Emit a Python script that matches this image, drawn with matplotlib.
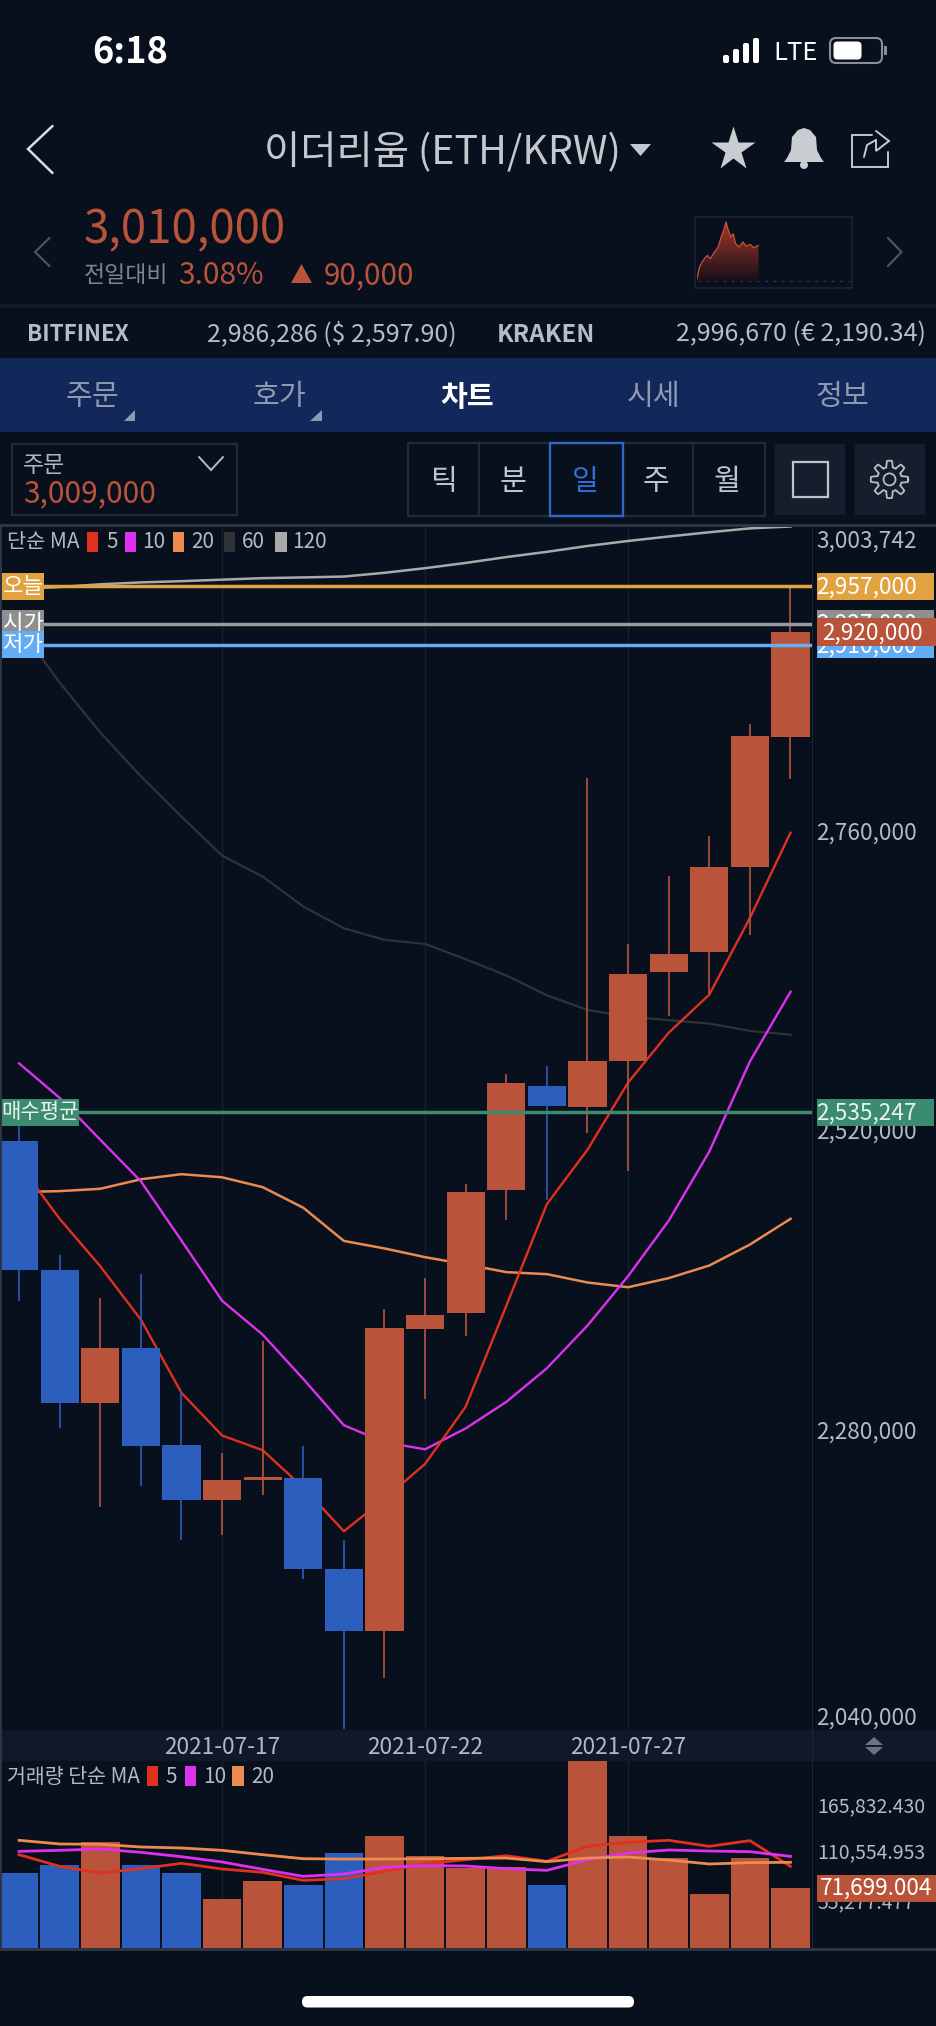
import numpy as np
import matplotlib
matplotlib.use("Agg")
import matplotlib.pyplot as plt
from matplotlib.patches import Rectangle, FancyBboxPatch, Polygon, Circle

plt.rcParams['font.family'] = ['Noto Sans CJK KR', 'DejaVu Sans']

# ---------- data ----------
dates = ['2021-07-12','2021-07-13','2021-07-14','2021-07-15','2021-07-16','2021-07-17','2021-07-18',
         '2021-07-19','2021-07-20','2021-07-21','2021-07-22','2021-07-23','2021-07-24','2021-07-25',
         '2021-07-26','2021-07-27','2021-07-28','2021-07-29','2021-07-30','2021-07-31']
body_top = [2512400,2408800,2346400,2346400,2268500,2240600,2242800,2242500,2169600,2362600,
            2372700,2471500,2558600,2556800,2576700,2646600,2662600,2731600,2836800,2920000]
body_bot = [2408800,2302100,2302100,2267800,2224700,2224700,2240600,2169600,2119800,2119800,
            2361900,2374900,2472800,2540800,2539900,2576100,2647800,2663800,2731900,2835800]
high = [2530800,2420900,2386700,2405700,2312200,2262500,2351800,2267800,2192800,2377800,
        2402500,2477900,2565900,2572400,2803600,2670600,2724800,2756400,2846900,2957000]
low = [2384400,2282700,2218700,2235600,2192800,2196500,2228900,2161700,2041000,2081900,
       2305800,2356500,2448800,2464900,2518800,2488700,2612900,2629700,2677300,2802100]
is_up = [0,0,1,0,0,1,1,0,0,1,1,1,1,0,1,1,1,1,1,1]

ma5 = [2494000,2450000,2412000,2369200,2310600,2276400,2264600,2234600,2199700,2225700,
       2253600,2299500,2380300,2461800,2505400,2559200,2599100,2629700,2691100,2759400]
ma10 = [2574600,2546900,2513400,2480100,2432600,2384400,2357200,2321700,2284600,2271000,
        2265300,2282100,2303300,2330300,2364500,2404100,2448500,2503900,2576100,2631900]
ma20 = [2471500,2472200,2474100,2481700,2485800,2483300,2475400,2458900,2432300,2426300,
        2419300,2413600,2407300,2405700,2399000,2395200,2402500,2412600,2429400,2450000]
ma60 = [2924300,2879700,2839800,2804600,2772300,2741100,2724200,2700300,2682800,2673600,
        2670300,2658000,2645100,2629100,2617400,2612000,2609200,2606500,2600600,2597600]
ma120 = [2954800,2956300,2958500,2960000,2961000,2962200,2963400,2964000,2964700,2967700,
         2971400,2975600,2980300,2984500,2989200,2993200,2996800,3000200,3003300,3004800]

volume = [89600,99600,126300,99200,89200,58500,80100,74900,113100,133400,
          110300,96000,97200,75700,240000,134200,107900,64900,107900,71699]
vma5 = [111500,97600,89600,94800,101200,94400,90400,80900,82800,91600,
        100800,105500,110300,103600,121500,126300,128700,121500,128300,97600]
vma10 = [115500,116700,118300,114300,109100,102800,94000,85600,88400,96400,
         98400,98000,94800,92800,105500,113500,117100,115900,115100,109500]
vma20 = [128700,124300,123900,120700,119500,116700,111500,106700,106300,106300,
         106700,107100,107500,103200,107500,108700,105100,100400,102000,102400]

price_ticks = [3003742,2760000,2520000,2280000,2040000]
price_tick_labels = ['3,003,742','2,760,000','2,520,000','2,280,000','2,040,000']
vol_ticks = [165832.430,110554.953,55277.477]
vol_tick_labels = ['165,832.430','110,554.953','55,277.477']
spark_x = [0,5,11,18,23,30,36,41,45,49,53,57,61,65,71,77,83,89,95,103]
spark = [0,42,62,77,67,87,102,132,152,177,152,132,142,112,102,117,104,110,100,107]

levels = [('시가',2927000,'2,927,000','#8f8f8f','#9a9a9a'),
          ('오늘',2957000,'2,957,000','#e2a23f','#e2a23f'),
          ('저가',2910000,'2,910,000','#62aef5','#62aef5')]
avg_price = 2535247

# ---------- style ----------
W, H = 936, 2026
BG = '#08101d'
RED = '#b9533a'
BLUE = '#2b5ebd'
C5, C10, C20, C60, C120 = '#e0301f', '#de30ef', '#ec8a4f', '#2f3337', '#a9a9a9'
GRID = '#162030'
BORDER = '#2b3543'
TXT = '#b4bac2'

fig = plt.figure(figsize=(W/100, H/100), dpi=100, facecolor=BG)

def rect_ax(x0, y0, x1, y1):
    return [x0/W, 1-y1/H, (x1-x0)/W, (y1-y0)/H]

# ---------- price panel ----------
ax = fig.add_axes(rect_ax(0, 526, 812, 1729), facecolor='none', zorder=2)
ax.set_xlim(-0.47, 19.53)
ax.set_ylim(2041200, 3005200)
ax.set_xticks([])
ax.set_yticks([])
for s in ax.spines.values():
    s.set_visible(False)
x = np.arange(len(dates))
cols = [RED if u else BLUE for u in is_up]
for i in (5, 10, 15):
    ax.axvline(i, color=GRID, lw=1, zorder=1)
for vals, c, lw in [(ma120, C120, 1.8), (ma60, C60, 1.6), (ma20, C20, 1.8), (ma10, C10, 1.7), (ma5, C5, 1.7)]:
    ax.plot(x, vals, color=c, lw=lw, zorder=2)
ax.vlines(x, low, high, colors=cols, lw=1.2, zorder=3)
ax.bar(x, np.array(body_top)-np.array(body_bot), bottom=body_bot, width=0.94, color=cols, zorder=4)
for _, v, _, _, lc in levels:
    ax.axhline(v, color=lc, lw=2.5, zorder=5)
ax.axhline(avg_price, color='#3b8c6e', lw=2.5, zorder=5)

# ---------- volume panel ----------
av = fig.add_axes(rect_ax(0, 1761, 812, 1948), facecolor='none', zorder=2)
av.set_xlim(-0.47, 19.53)
av.set_ylim(0, 223465)
av.set_xticks([])
av.set_yticks([])
for s in av.spines.values():
    s.set_visible(False)
for i in (5, 10, 15):
    av.axvline(i, color=GRID, lw=1, zorder=1)
av.bar(x, volume, width=0.95, color=cols, zorder=2)
for vals, c in [(vma5, C5), (vma10, C10), (vma20, C20)]:
    av.plot(x, vals, color=c, lw=2.0, zorder=3)

# ---------- overlay in pixel units ----------
ui = fig.add_axes([0, 0, 1, 1], facecolor='none', zorder=3)
ui.set_xlim(0, W)
ui.set_ylim(H, 0)
ui.axis('off')

def T(px, py, s, size, color=TXT, ha='left', va='center', weight='normal', z=10):
    return ui.text(px, py+1.5, s, fontsize=size, color=color, ha=ha, va=va, fontweight=weight, zorder=z)

def R(x0, y0, x1, y1, fc='none', ec='none', lw=0, z=1):
    ui.add_patch(Rectangle((x0, y0), x1-x0, y1-y0, facecolor=fc, edgecolor=ec, linewidth=lw, zorder=z))

def L(pts, c=TXT, lw=1.5, z=5):
    xs, ys = zip(*pts)
    ui.plot(xs, ys, color=c, lw=lw, zorder=z, solid_capstyle='round', solid_joinstyle='miter')

def Tri(pts, c, z=5):
    ui.add_patch(Polygon(pts, closed=True, facecolor=c, edgecolor='none', zorder=z))

def pyv(axis, v):
    return H - axis.transData.transform((0, v))[1]

# status bar
T(92, 50, '6:18', 26, 'white', weight='bold')
for bx, bt in zip([722, 732, 742, 752], [55, 49, 43, 38]):
    ui.add_patch(FancyBboxPatch((bx+1, bt), 6, 63-bt, boxstyle='round,pad=0,rounding_size=2', fc='white', ec='none', zorder=5))
T(773, 51, 'LTE', 18.5, 'white', weight='medium')
ui.add_patch(FancyBboxPatch((830, 38), 52, 25, boxstyle='round,pad=0,rounding_size=6', fc='none', ec='#8a8f96', lw=1.5, zorder=5))
ui.add_patch(FancyBboxPatch((833.5, 41.5), 28, 18, boxstyle='round,pad=0,rounding_size=4', fc='white', ec='none', zorder=6))
R(884, 46, 887, 55, fc='#8a8f96', z=5)

# header
L([(52.5, 126), (28, 149), (52.5, 173)], '#d8dbdf', 1.8)
T(264, 152, '이더리움 (ETH/KRW)', 28.4, '#c4c8cd')
Tri([(630, 144), (651, 144), (640.5, 156)], '#c4c8cd')
ui.plot([733], [149], marker='*', ms=33, color='#c9cdd2', mec='none', zorder=5)
bell = [(804,128),(810,130),(816,137),(817,150),(821,158),(824,162),(784,162),(787,158),(791,150),(792,137),(798,130)]
Tri(bell, '#c9cdd2')
ui.add_patch(Circle((804, 165), 4, fc='#c9cdd2', ec='none', zorder=5))
L([(872, 135), (852, 135), (852, 167), (888, 167), (888, 152)], '#c4c8cd', 1.4)
L([(864, 157), (867, 145), (876, 140)], '#c4c8cd', 1.4)
L([(876, 131), (889, 141), (876, 151), (876, 140)], '#c4c8cd', 1.4)

# quote row
L([(49.5, 238), (35, 252), (49.5, 266)], '#4a5462', 1.6)
L([(888, 238), (901.5, 252), (888, 266)], '#4a5462', 1.6)
T(84, 228, '3,010,000', 32.8, RED)
T(84, 274, '전일대비', 16.5, '#7b8591')
T(178, 274, '3.08%', 21.5, RED)
Tri([(291, 283), (312, 283), (301.5, 264)], RED)
T(324, 274, '90,000', 21.3, RED)
R(694.5, 216.5, 851.5, 287.5, ec='#1a2432', lw=1.2)

# sparkline
sx = fig.add_axes(rect_ax(696.5, 221, 758.5, 281), facecolor='none', zorder=4)
sx.axis('off')
sx.set_xlim(0, spark_x[-1])
sx.set_ylim(0, 180)
grad = np.linspace(1, 0, 64).reshape(-1, 1)
cm = matplotlib.colors.LinearSegmentedColormap.from_list('s', ['#1a0f18', '#a33a2a'])
im = sx.imshow(grad, extent=[0, spark_x[-1], 0, 180], aspect='auto', cmap=cm, zorder=1)
clip = Polygon(list(zip(spark_x, spark))+[(spark_x[-1], 0), (0, 0)], closed=True, transform=sx.transData)
im.set_clip_path(clip)
sx.plot(spark_x, spark, color='#c9503a', lw=0.9, zorder=2)
ui.plot([698, 850], [281, 281], color='#2a3442', lw=1, ls=(0, (2, 4)), zorder=5)

# exchange row
R(0, 304, W, 308, fc='#111a27')
T(27, 333, 'BITFINEX', 16.2, '#b6bcc4', weight='bold')
T(207, 333, '2,986,286 ($ 2,597.90)', 18, '#b6bcc4')
T(497, 333, 'KRAKEN', 17.4, '#b6bcc4', weight='bold')
T(676, 333, '2,996,670 (€ 2,190.34)', 18, '#b6bcc4')

# tab bar
R(0, 358, W, 432, fc='#12275a')
for tx, s in zip([92.5, 279.4, 467.5, 654, 842], ['주문', '호가', '차트', '시세', '정보']):
    on = s == '차트'
    T(tx, 395, s, 21, 'white' if on else '#8e9ab0', ha='center', weight='bold' if on else 'normal')
Tri([(123.6, 421), (135, 421), (135, 410)], '#8e9ab0')
Tri([(310.4, 421), (322, 421), (322, 410)], '#8e9ab0')

# toolbar
R(12, 444, 237, 515, ec='#222b38', lw=1.6)
T(23, 464, '주문', 16.5, '#b0b6be')
T(23, 492, '3,009,000', 21.5, RED)
L([(199, 457), (211, 470), (223, 457)], '#b6bcc4', 1.4)
R(408, 443, 765, 515.5, ec='#222b38', lw=1.6)
for sxp in [479.4, 692.5]:
    L([(sxp, 443), (sxp, 515.5)], '#222b38', 1.4)
for tx, s in zip([443, 513.4, 585.7, 656, 727], ['틱', '분', '일', '주', '월']):
    T(tx, 480, s, 21, '#2f6fd6' if s == '일' else '#c0c5cb', ha='center')
R(550, 443, 622.7, 515.5, ec='#2f66c8', lw=1.7, z=3)
R(775, 444, 845, 515, fc='#151e2c')
R(793, 462, 827.5, 497, ec='#c0c4ca', lw=1.6, z=3)
R(855, 444, 925, 515, fc='#151e2c')
ang = np.linspace(0, 2*np.pi, 97)
rad = 15.5 + 3.2*np.clip(np.cos(8*ang)*2.2, -1, 1)
ui.plot(889.5+rad*np.cos(ang), 479.4+rad*np.sin(ang), color='#b8bdc4', lw=1.3, zorder=5)
ui.add_patch(Circle((889.5, 479.4), 6, fc='none', ec='#b8bdc4', lw=1.3, zorder=5))

# panel frames
R(0, 524, W, 527, fc=BORDER, z=2)
R(0, 526, 2, 1950, fc=BORDER, z=2)
R(811.5, 526, 812.8, 1948, fc='#1c2633', z=2)
R(0, 1947.5, W, 1950.5, fc=BORDER, z=2)
R(0, 1730, W, 1761, fc='#0f1929', z=1)

# price legend
T(7, 540, '단순 MA', 15, TXT)
for x0, x1, c, tx, s in [(87, 98, C5, 106, '5'), (125, 136, C10, 142, '10'), (172.5, 184, C20, 191, '20'),
                         (224, 235, C60, 242, '60'), (275, 286.5, C120, 292.5, '120')]:
    R(x0, 531.5, x1, 551.5, fc=c, z=6)
    T(tx, 540, s, 15, TXT)

# price tick labels
for v, s, dy in zip(price_ticks, price_tick_labels, [12, 0, 0, 0, -13]):
    T(816, pyv(ax, v)+dy-0.5, s, 16.3, TXT)

# level labels
for z, (name, v, s, bc, _) in enumerate(levels):
    y = pyv(ax, v)
    R(2, y-13.5, 44, y+13.5, fc=bc, z=20+2*z)
    T(23, y-1.5, name, 16, 'white', ha='center', z=21+2*z)
    R(817, y-13.5, 934, y+13.5, fc=bc, z=20+2*z)
    T(816.5, y-0.5, s, 16.3, 'white', z=21+2*z)
y = pyv(ax, 2920000)
R(817, y-14, 936, y+14, fc=RED, z=30)
T(872, y-0.5, '2,920,000', 16.3, 'white', ha='center', z=31)
y = pyv(ax, avg_price)
R(2, y-13.5, 79, y+13.5, fc='#3b8c6e', z=20)
T(40.5, y-1.5, '매수평균', 15.2, '#e8f2ee', ha='center', z=21)
R(817, y-13.5, 934, y+13.5, fc='#3b8c6e', z=20)
T(816.5, y-0.5, '2,535,247', 16.3, '#e8f2ee', z=21)

# date labels
for i in (5, 10, 15):
    px = ui.transData.inverted().transform(ax.transData.transform((i, 2500000)))[0]
    T(px, 1746, dates[i], 16.3, TXT, ha='center')
Tri([(865, 1745), (883, 1745), (874, 1737)], '#6a7480')
Tri([(865, 1747), (883, 1747), (874, 1755)], '#6a7480')

# volume legend and labels
T(7, 1775, '거래량 단순 MA', 14.8, TXT)
for x0, x1, c, tx, s in [(147, 158, C5, 165, '5'), (184.5, 196, C10, 203, '10'), (232, 243.6, C20, 251, '20')]:
    R(x0, 1766, x1, 1786, fc=c, z=6)
    T(tx, 1775, s, 15, TXT)
for v, s, dy in zip(vol_ticks, vol_tick_labels, [-4, -4, 0]):
    T(817, pyv(av, v)+dy, s, 14, TXT)
R(817, 1874.5, 936, 1902, fc=RED, z=30)
T(876.5, 1887, '71,699.004', 16.2, 'white', ha='center', z=31)

# home indicator
ui.add_patch(FancyBboxPatch((302, 1996), 332, 11.5, boxstyle='round,pad=0,rounding_size=5.5', fc='white', ec='none', zorder=5))

fig.savefig('out.png', dpi=100, facecolor=BG)
